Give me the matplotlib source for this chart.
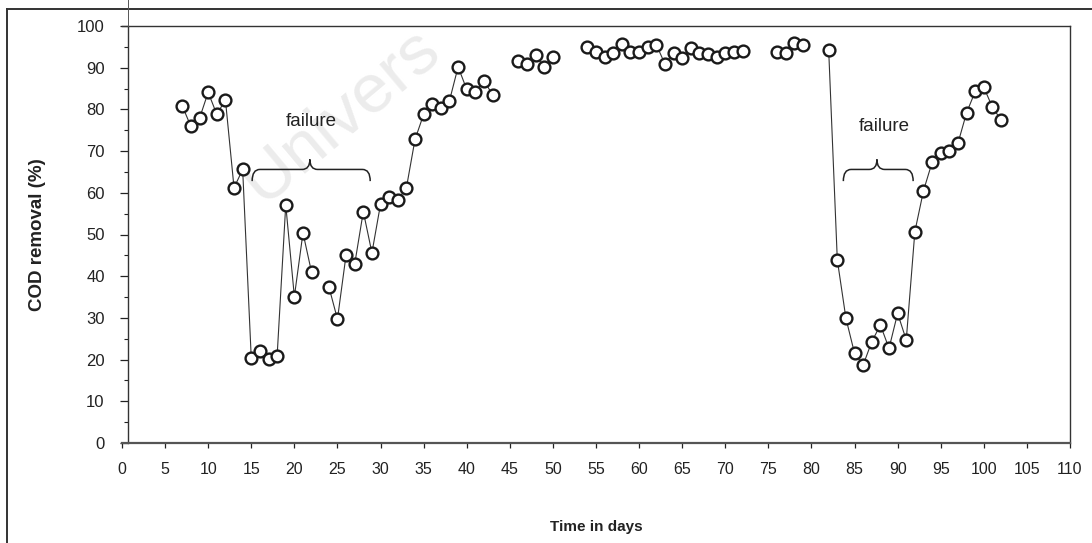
#!/usr/bin/env python

import numpy as np
import pandas as pd
import matplotlib
matplotlib.use("Agg")
import matplotlib.pyplot as plt
from matplotlib.path import Path
from matplotlib.patches import PathPatch
from matplotlib.lines import Line2D

plt.rcParams['font.family'] = ['Liberation Sans', 'DejaVu Sans']

# COD removal readings (days with no sample are simply absent)
days = [7, 8, 9, 10, 11, 12, 13, 14, 15, 16, 17, 18, 19, 20, 21, 22,
        24, 25, 26, 27, 28, 29, 30, 31, 32, 33, 34, 35, 36, 37, 38, 39,
        40, 41, 42, 43, 46, 47, 48, 49, 50,
        54, 55, 56, 57, 58, 59, 60, 61, 62, 63, 64, 65, 66, 67, 68, 69,
        70, 71, 72, 76, 77, 78, 79,
        82, 83, 84, 85, 86, 87, 88, 89, 90, 91, 92, 93, 94, 95, 96, 97,
        98, 99, 100, 101, 102]
cod_removal = [80.8, 75.9, 77.9, 84.1, 78.8, 82.3, 61.2, 65.6, 20.3, 22.1,
               20.1, 20.9, 57.1, 35.1, 50.4, 40.9,
               37.5, 29.7, 45.1, 42.9, 55.5, 45.6, 57.3, 58.9, 58.3, 61.2,
               72.8, 78.8, 81.3, 80.4, 82.1, 90.2,
               84.8, 84.2, 86.9, 83.5, 91.7, 90.9, 93.0, 90.1, 92.6,
               95.0, 93.8, 92.6, 93.6, 95.7, 93.8, 93.8, 95.0, 95.5, 90.9,
               93.6, 92.3, 94.7, 93.5, 93.3, 92.5,
               93.5, 93.7, 94.0, 93.8, 93.5, 96.0, 95.4,
               94.2, 43.9, 29.9, 21.5, 18.7, 24.3, 28.3, 22.7, 31.1, 24.7,
               50.7, 60.5, 67.3, 69.5, 70.1, 71.9,
               79.2, 84.3, 85.3, 80.5, 77.5]

# failure periods: (left end, tip, right end, text x, text y)
failures = [(15.1, 21.8, 28.8, 22.0, 77.1),
            (83.7, 87.6, 91.8, 88.5, 76.0)]

x_ticks = np.arange(0, 111, 5)
y_ticks = np.arange(0, 101, 10)


def brace(ax, x0, xm, x1, y_end=62.8, y_mid=65.6, y_tip=68.0, r=0.9):
    verts = [(x0, y_end), (x0, y_mid), (x0 + r, y_mid),
             (xm - r, y_mid), (xm, y_mid), (xm, y_tip),
             (xm, y_mid), (xm + r, y_mid),
             (x1 - r, y_mid), (x1, y_mid), (x1, y_end)]
    codes = [Path.MOVETO, Path.CURVE3, Path.CURVE3,
             Path.LINETO, Path.CURVE3, Path.CURVE3,
             Path.CURVE3, Path.CURVE3,
             Path.LINETO, Path.CURVE3, Path.CURVE3]
    ax.add_patch(PathPatch(Path(verts, codes), fill=False, lw=1.1,
                           edgecolor='#222222', zorder=4))


fig = plt.figure(figsize=(10.92, 5.43), dpi=100)
W, H = 1092.0, 543.0

# outer frame (top and left edges of the scanned figure box)
fig.add_artist(Line2D([7 / W, 1.0], [1 - 9 / H, 1 - 9 / H], color='#333333', lw=1.4))
fig.add_artist(Line2D([7 / W, 7 / W], [0.0, 1 - 9 / H], color='#333333', lw=1.4))
fig.add_artist(Line2D([128 / W, 128 / W], [1 - 26 / H, 1.0], color='#555555', lw=0.7))

ax = fig.add_axes([122 / W, 1 - 443 / H, (1070 - 122) / W, (443 - 26) / H])
ax.set_facecolor('none')

# faint scan watermark, kept behind the data
ax.text(262 / W, 1 - 205 / H, "Univers", transform=fig.transFigure,
        rotation=40, rotation_mode='anchor', ha='left', va='baseline',
        fontsize=50, color='#ececec', zorder=0)

s = pd.Series(cod_removal, index=days)
s = s.reindex(range(min(days), max(days) + 1))
ax.plot(s.index, s.values, color='#333333', lw=0.8, zorder=2)
ax.plot(days, cod_removal, linestyle='none', marker='o', markersize=8.5,
        markerfacecolor='white', markeredgecolor='#1a1a1a', markeredgewidth=1.7,
        zorder=3)

for x0, xm, x1, tx, ty in failures:
    brace(ax, x0, xm, x1)
    ax.text(tx, ty, "failure", ha='center', va='center', fontsize=13.5,
            color='#222222', zorder=5)

ax.set_xlim(0, 110)
ax.set_ylim(0, 100)
ax.set_xticks(x_ticks)
ax.set_yticks(y_ticks)
ax.set_yticks(np.arange(5, 100, 10), minor=True)
ax.tick_params(axis='y', which='major', direction='out', length=5.8, width=0.9,
               labelsize=12, pad=11, colors='#222222')
ax.tick_params(axis='y', which='minor', direction='out', length=3, width=0.8,
               colors='#222222')
ax.tick_params(axis='x', direction='out', length=3.6, width=0.9, labelsize=11.5,
               pad=10, colors='#222222')

ax.spines['left'].set_position(('data', 0.7))
for side in ['top', 'right', 'left']:
    ax.spines[side].set_linewidth(1.0)
    ax.spines[side].set_color('#333333')
ax.spines['bottom'].set_linewidth(1.6)
ax.spines['bottom'].set_color('#555555')

ax.set_xlabel("Time in days", fontsize=11, fontweight='bold', labelpad=31,
              color='#222222')
ax.set_ylabel("COD removal (%)", fontsize=13.5, fontweight='bold', labelpad=22,
              color='#222222')

fig.savefig("out.png", dpi=100)
